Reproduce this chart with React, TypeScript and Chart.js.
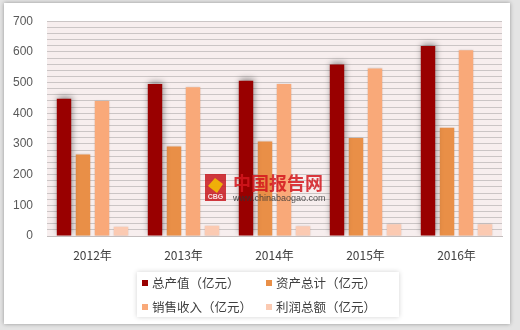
import React, { useEffect, useRef } from "react";
import { Chart, registerables } from "chart.js";

Chart.register(...registerables);

const categories = ["2012年", "2013年", "2014年", "2015年", "2016年"];
const seriesNames = ["总产值（亿元）", "资产总计（亿元）", "销售收入（亿元）", "利润总额（亿元）"];
const totalOutput = [447, 495, 506, 559, 619];
const totalAssets = [266, 292, 308, 319, 353];
const salesRevenue = [440, 485, 495, 546, 605];
const totalProfit = [30, 33, 32, 38, 38];
const seriesColors = ["#990000", "#e98f47", "#f9a979", "#fbcab2"];
const yTicks = [0, 100, 200, 300, 400, 500, 600, 700];

const FONT = "'Noto Sans CJK SC', 'Liberation Sans', sans-serif";

const framePlugin = {
  id: "frame",
  beforeDraw(chart: any) {
    const { ctx, chartArea } = chart;
    ctx.save();
    ctx.fillStyle = "#e4e4e4";
    ctx.fillRect(0, 0, chart.width, chart.height);
    ctx.shadowColor = "rgba(0,0,0,0.35)";
    ctx.shadowBlur = 4;
    ctx.fillStyle = "#ffffff";
    ctx.fillRect(4, 3, 506, 321);
    ctx.shadowColor = "transparent";
    ctx.fillStyle = "#f7eeee";
    ctx.fillRect(chartArea.left, chartArea.top, chartArea.right - chartArea.left, chartArea.bottom - chartArea.top);
    ctx.restore();
  },
  beforeDatasetDraw(chart: any, args: any) {
    const { ctx } = chart;
    ctx.save();
    if (args.index === 0) {
      ctx.shadowColor = "rgba(0,0,0,0.4)";
      ctx.shadowBlur = 6;
      ctx.shadowOffsetX = 1;
      ctx.shadowOffsetY = -2;
    } else {
      ctx.shadowColor = "rgba(0,0,0,0.15)";
      ctx.shadowBlur = 2;
    }
  },
  afterDatasetDraw(chart: any) {
    chart.ctx.restore();
  },
  afterDraw(chart: any) {
    const { ctx } = chart;
    ctx.save();
    // watermark
    ctx.globalAlpha = 0.85;
    ctx.fillStyle = "#c8161d";
    ctx.fillRect(205, 174, 21, 27);
    ctx.fillStyle = "#f5c400";
    ctx.beginPath();
    ctx.moveTo(208, 186);
    ctx.lineTo(215, 178);
    ctx.lineTo(223, 184);
    ctx.lineTo(217, 193);
    ctx.closePath();
    ctx.fill();
    ctx.fillStyle = "#ffffff";
    ctx.font = "bold 7px 'Liberation Sans', sans-serif";
    ctx.textAlign = "center";
    ctx.textBaseline = "middle";
    ctx.fillText("CBG", 215.5, 197);
    ctx.fillStyle = "#d4161d";
    ctx.font = "bold 18px " + FONT;
    ctx.textAlign = "left";
    ctx.fillText("中国报告网", 233, 183);
    ctx.fillStyle = "#333333";
    ctx.font = "9px 'Liberation Sans', sans-serif";
    ctx.fillText("www.chinabaogao.com", 233, 199);
    ctx.globalAlpha = 1;

    // legend box
    ctx.shadowColor = "rgba(0,0,0,0.18)";
    ctx.shadowBlur = 5;
    ctx.fillStyle = "#ffffff";
    ctx.fillRect(137, 272, 262, 45);
    ctx.shadowColor = "transparent";
    const pos = [
      [142, 283],
      [266, 283],
      [142, 307],
      [266, 307],
    ];
    ctx.font = "12.5px " + FONT;
    ctx.textBaseline = "middle";
    ctx.textAlign = "left";
    chart.data.datasets.forEach((ds: any, i: number) => {
      const [x, y] = pos[i];
      ctx.fillStyle = ds.backgroundColor;
      ctx.fillRect(x, y - 3, 6, 6);
      ctx.fillStyle = "#404040";
      ctx.fillText(ds.label, x + 10, y);
    });
    ctx.restore();
  },
};

export default function App() {
  const ref = useRef<HTMLCanvasElement | null>(null);
  useEffect(() => {
    if (!ref.current) return;
    const series = [totalOutput, totalAssets, salesRevenue, totalProfit];
    const chart = new Chart(ref.current, {
      type: "bar",
      data: {
        labels: categories,
        datasets: series.map((d, i) => ({
          label: seriesNames[i],
          data: d,
          backgroundColor: seriesColors[i],
          borderWidth: 0,
          categoryPercentage: 0.835,
          barPercentage: 0.76,
        })),
      },
      options: {
        responsive: false,
        animation: false,
        layout: { padding: { left: 0, right: 18, top: 18, bottom: 64 } },
        plugins: { legend: { display: false }, tooltip: { enabled: false } },
        scales: {
          x: {
            grid: { display: false, drawTicks: false },
            border: { display: true, color: "#c4bebe" },
            ticks: { color: "#404040", padding: 12, font: { family: FONT, size: 12 } },
            afterFit: (s: any) => {
              s.height = 30;
            },
          },
          y: {
            min: 0,
            max: 700,
            afterBuildTicks: (s: any) => {
              const t: any[] = [];
              for (let v = 0; v <= 700; v += 20) t.push({ value: v });
              s.ticks = t;
            },
            grid: { color: "#cbc5c5", lineWidth: 1, drawTicks: false },
            border: { display: false },
            ticks: {
              color: "#595959",
              padding: 14,
              autoSkip: false,
              font: { family: "'Liberation Sans', sans-serif", size: 12 },
              callback: (v: any) => (yTicks.includes(Number(v)) ? String(v) : ""),
            },
            afterFit: (s: any) => {
              s.width = 47;
            },
          },
        },
      },
      plugins: [framePlugin],
    });
    return () => chart.destroy();
  }, []);
  return (
    <div style={{ position: "fixed", left: 0, top: 0, width: 520, height: 330 }}>
      <canvas ref={ref} width={520} height={330} style={{ width: 520, height: 330 }} />
    </div>
  );
}
